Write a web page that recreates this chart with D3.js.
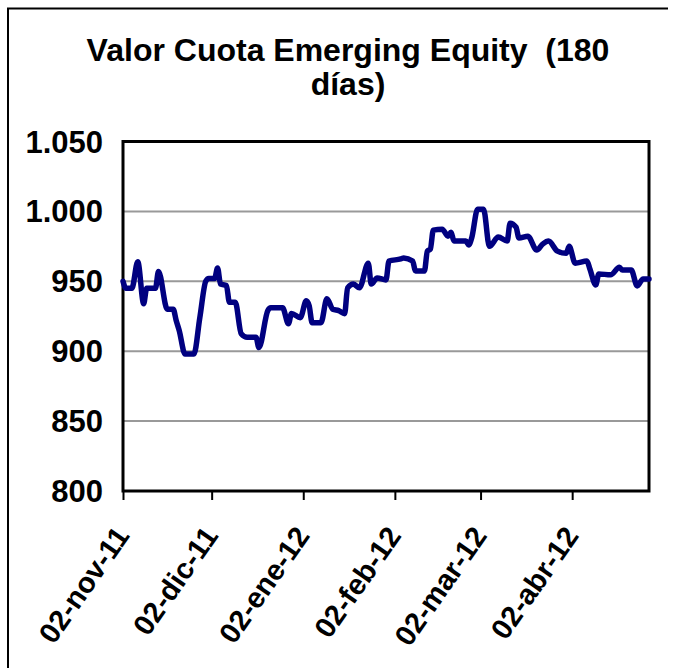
<!DOCTYPE html>
<html>
<head>
<meta charset="utf-8">
<script src="https://cdn.jsdelivr.net/npm/d3@7"></script>
<style>
  body { margin: 0; background: #fff; }
  svg { display: block; }
  text { font-family: "Liberation Sans", Arial, sans-serif; font-weight: bold; fill: #000; }
  .title { white-space: pre; }
</style>
</head>
<body>
<svg id="chart" width="675" height="668"></svg>
<script>
// Chart text
const titleLines = ["Valor Cuota Emerging Equity  (180", "días)"];

// Daily fund unit value (valor cuota)
const dates = [
  "2011-11-02","2011-11-03","2011-11-05","2011-11-07","2011-11-09","2011-11-10","2011-11-13","2011-11-14",
  "2011-11-17","2011-11-19","2011-11-20","2011-11-21","2011-11-23","2011-11-26","2011-11-28","2011-11-30",
  "2011-12-01","2011-12-03","2011-12-04","2011-12-05","2011-12-07","2011-12-08","2011-12-10","2011-12-12",
  "2011-12-14","2011-12-17","2011-12-18","2011-12-21","2011-12-22","2011-12-26","2011-12-28","2011-12-29",
  "2012-01-01","2012-01-03","2012-01-04","2012-01-05","2012-01-08","2012-01-10","2012-01-12","2012-01-14",
  "2012-01-16","2012-01-17","2012-01-19","2012-01-21","2012-01-24","2012-01-25","2012-01-27","2012-01-30",
  "2012-01-31","2012-02-04","2012-02-05","2012-02-08","2012-02-09","2012-02-12","2012-02-13","2012-02-14",
  "2012-02-15","2012-02-18","2012-02-20","2012-02-21","2012-02-22","2012-02-26","2012-02-27","2012-02-28",
  "2012-03-01","2012-03-03","2012-03-05","2012-03-08","2012-03-11","2012-03-12","2012-03-14","2012-03-15",
  "2012-03-18","2012-03-21","2012-03-23","2012-03-25","2012-03-28","2012-03-31","2012-04-01","2012-04-03",
  "2012-04-07","2012-04-08","2012-04-10","2012-04-11","2012-04-15","2012-04-18","2012-04-19","2012-04-22",
  "2012-04-24","2012-04-26","2012-04-28"
];
const values = [
  950, 945, 945, 964, 934, 945, 945, 957,
  930, 930, 922, 915, 898, 898, 924, 950,
  952, 952, 959.5, 948, 947, 935, 935, 912.5,
  910, 910, 902.6, 929, 931, 931, 919.6, 927,
  924, 936, 932.5, 920.4, 920.4, 937.5, 930, 929,
  926.8, 945.3, 948, 945.3, 963, 948, 952.4, 951,
  964.5, 966, 966.7, 964.5, 957.4, 957.4, 971.6, 973,
  986.6, 987.3, 982.3, 985, 978.8, 978.8, 976, 981,
  1001.6, 1001.6, 975, 981.6, 978.8, 991.6, 988.7, 981,
  982.3, 972.4, 976.6, 978.8, 971.6, 970, 975, 963,
  964.5, 958.8, 947.4, 955.3, 954.6, 960, 958, 958,
  946.7, 951.7, 951.7
];

// Axis definitions
const yTicks = [800, 850, 900, 950, 1000, 1050];
const xDomain = ["2011-11-02", "2012-04-28"];
const xTickDates = ["2011-11-02", "2011-12-02", "2012-01-02", "2012-02-02", "2012-03-02", "2012-04-02"];
const xTickLabels = ["02-nov-11", "02-dic-11", "02-ene-12", "02-feb-12", "02-mar-12", "02-abr-12"];

const parse = d3.timeParse("%Y-%m-%d");
const series = dates.map((d, i) => ({ date: parse(d), value: values[i] }));

const svg = d3.select("#chart");
const plot = { left: 123, right: 649, top: 141.5, bottom: 491 };

// Outer chart frame (left and top edges)
svg.append("path")
  .attr("d", "M8,668 V8.5 H668")
  .attr("fill", "none").attr("stroke", "#000").attr("stroke-width", 2);

// Title
const title = svg.append("text")
  .attr("class", "title")
  .attr("x", 348).attr("y", 61)
  .attr("text-anchor", "middle")
  .style("font-size", "32px");
titleLines.forEach((t, i) => {
  title.append("tspan").attr("x", 348).attr("dy", i === 0 ? 0 : 34).text(t);
});

const x = d3.scaleTime()
  .domain(xDomain.map(parse))
  .range([plot.left, plot.right]);
const y = d3.scaleLinear()
  .domain([800, 1050])
  .range([plot.bottom, plot.top]);

const esLocale = d3.formatLocale({ decimal: ",", thousands: ".", grouping: [3], currency: ["$", ""] });
const fmt = esLocale.format(",d");

// Horizontal gridlines
svg.append("g")
  .selectAll("line")
  .data(yTicks.filter(v => v > 800 && v < 1050))
  .join("line")
  .attr("x1", plot.left).attr("x2", plot.right)
  .attr("y1", d => y(d)).attr("y2", d => y(d))
  .attr("stroke", "#999").attr("stroke-width", 2);

// Y axis labels
const yAxis = svg.append("g")
  .attr("transform", `translate(${plot.left},0)`)
  .call(d3.axisLeft(y).tickValues(yTicks).tickFormat(fmt).tickSize(0).tickPadding(20));
yAxis.select(".domain").remove();
yAxis.selectAll("text")
  .style("font-size", "31px")
  .style("font-family", "'Liberation Sans', Arial, sans-serif")
  .style("font-weight", "bold")
  .attr("dy", "0.34em");

// X axis with monthly ticks
const xAxis = svg.append("g")
  .attr("transform", `translate(0,${plot.bottom})`)
  .call(d3.axisBottom(x)
    .tickValues(xTickDates.map(parse))
    .tickFormat((d, i) => xTickLabels[i])
    .tickSize(9).tickPadding(0));
xAxis.select(".domain").remove();
xAxis.selectAll(".tick line").attr("stroke", "#000").attr("stroke-width", 2);
xAxis.selectAll("text")
  .style("font-size", "29px")
  .style("font-family", "'Liberation Sans', Arial, sans-serif")
  .style("font-weight", "bold")
  .attr("text-anchor", "end")
  .attr("dy", "0.7em")
  .attr("transform", "translate(-17,28) rotate(-55)");

// Plot area border
svg.append("rect")
  .attr("x", plot.left).attr("y", plot.top)
  .attr("width", plot.right - plot.left).attr("height", plot.bottom - plot.top)
  .attr("fill", "none").attr("stroke", "#000").attr("stroke-width", 3);

// Value line
const line = d3.line()
  .x(d => x(d.date))
  .y(d => y(d.value))
  .curve(d3.curveMonotoneX);

svg.append("path")
  .datum(series)
  .attr("d", line)
  .attr("fill", "none")
  .attr("stroke", "#000080")
  .attr("stroke-width", 5.5)
  .attr("stroke-linejoin", "round")
  .attr("stroke-linecap", "round");
</script>
</body>
</html>
